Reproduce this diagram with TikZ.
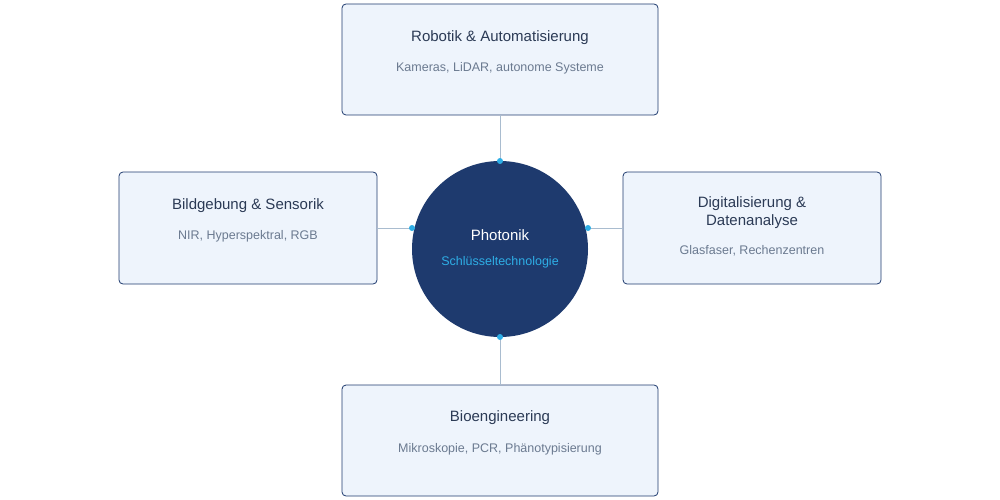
\documentclass[tikz,border=0pt]{standalone}
\usepackage{fontspec}
\setmainfont{Liberation Sans}
\usetikzlibrary{positioning}
\definecolor{boxfill}{HTML}{EEF4FC}
\definecolor{navy}{HTML}{1E3A6E}
\definecolor{cyanish}{HTML}{2EAEE6}
\definecolor{linkgray}{HTML}{A9BCCF}
\definecolor{titletext}{HTML}{2B3A55}
\definecolor{subtext}{HTML}{6B7A90}
\tikzset{
  field/.style={draw=navy, fill=boxfill, rounded corners=4pt, line width=0.8pt},
  hub/.style={circle, fill=navy, minimum size=176pt, inner sep=0pt},
  link/.style={draw=linkgray, line width=1pt},
  dot/.style={circle, fill=cyanish, minimum size=6pt, inner sep=0pt},
  head/.style={font=\fontsize{15pt}{18pt}\selectfont, text=titletext, align=center},
  sub/.style={font=\fontsize{12.5pt}{15pt}\selectfont, text=subtext, align=center}
}
\begin{document}
\begin{tikzpicture}[x=1pt,y=-1pt]
  \useasboundingbox (0,0) rectangle (1000,500);

  % links and hub
  \node[hub] (hub) at (500,249) {};
  \coordinate (topdot) at (500,161);
  \coordinate (botdot) at (500,337);
  \coordinate (leftdot) at (412,228);
  \coordinate (rightdot) at (588,228);

  % fields
  \draw[field] (342,4) rectangle (658,115);
  \coordinate (topbox) at (500,115);
  \draw[field] (119,172) rectangle (377,284);
  \coordinate (leftbox) at (377,228);
  \draw[field] (623,172) rectangle (881,284);
  \coordinate (rightbox) at (623,228);
  \draw[field] (342,385) rectangle (658,496);
  \coordinate (botbox) at (500,385);

  \draw[link] (topbox) -- (topdot);
  \draw[link] (botbox) -- (botdot);
  \draw[link] (leftbox) -- (leftdot);
  \draw[link] (rightbox) -- (rightdot);

  \foreach \d in {topdot,botdot,leftdot,rightdot}
    \node[dot] at (\d) {};

  % texts
  \node[head, text=white] (hubhead) at (500,235) {Photonik};
  \node[sub, text=cyanish] (hubsub) at (500,262) {Schlüsseltechnologie};

  \node[head] (robhead) at (500,38) {Robotik \& Automatisierung};
  \node[sub] (robsub) at (500,68) {Kameras, LiDAR, autonome Systeme};

  \node[head] (bildhead) at (248,206) {Bildgebung \& Sensorik};
  \node[sub] (bildsub) at (248,236) {NIR, Hyperspektral, RGB};

  \node[head] (digihead) at (752,213) {Digitalisierung \&\\Datenanalyse};
  \node[sub] (digisub) at (752,251) {Glasfaser, Rechenzentren};

  \node[head] (biohead) at (500,418) {Bioengineering};
  \node[sub] (biosub) at (500,449) {Mikroskopie, PCR, Phänotypisierung};
\end{tikzpicture}
\end{document}
